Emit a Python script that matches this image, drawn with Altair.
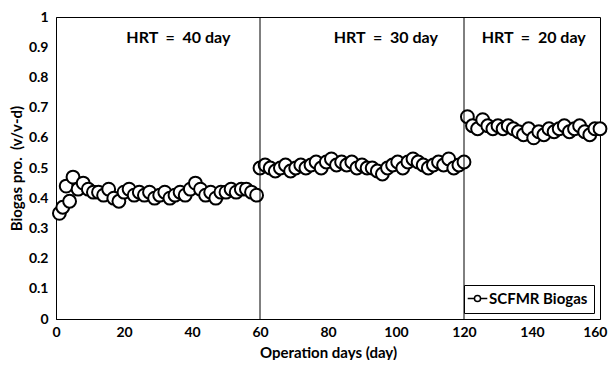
import altair as alt
import pandas as pd

seg1_days = [1, 2, 3, 4, 5, 6.5, 8, 9.5, 11, 12.5, 14, 15.5, 17, 18.5, 20, 21.5, 23, 24.5, 26, 27.5,
             29, 30.5, 32, 33.5, 35, 36.5, 38, 39.5, 41, 42.5, 44, 45.5, 47, 48.5, 50, 51.5, 53, 54.5,
             56, 57.5, 59]
seg1_vals = [0.35, 0.37, 0.44, 0.39, 0.47, 0.43, 0.45, 0.43, 0.42, 0.42, 0.41, 0.43, 0.40, 0.39, 0.42,
             0.43, 0.41, 0.42, 0.41, 0.42, 0.40, 0.41, 0.42, 0.40, 0.41, 0.42, 0.41, 0.43, 0.45, 0.43,
             0.41, 0.42, 0.40, 0.42, 0.42, 0.43, 0.42, 0.43, 0.43, 0.42, 0.41]
seg2_days = [60, 61.5, 63, 64.5, 66, 67.5, 69, 70.5, 72, 73.5, 75, 76.5, 78, 79.5, 81, 82.5, 84, 85.5,
             87, 88.5, 90, 91.5, 93, 94.5, 96, 97.5, 99, 100.5, 102, 103.5, 105, 106.5, 108, 109.5,
             111, 112.5, 114, 115.5, 117, 118.5, 120]
seg2_vals = [0.50, 0.51, 0.50, 0.49, 0.50, 0.51, 0.49, 0.50, 0.51, 0.50, 0.51, 0.52, 0.50, 0.52, 0.53,
             0.51, 0.52, 0.51, 0.52, 0.50, 0.51, 0.50, 0.50, 0.49, 0.48, 0.50, 0.51, 0.52, 0.50, 0.52,
             0.53, 0.52, 0.51, 0.50, 0.51, 0.52, 0.51, 0.53, 0.50, 0.51, 0.52]
seg3_days = [121, 122.5, 124, 125.5, 127, 128.5, 130, 131.5, 133, 134.5, 136, 137.5, 139, 140.5, 142,
             143.5, 145, 146.5, 148, 149.5, 151, 152.5, 154, 155.5, 157, 158.5, 160]
seg3_vals = [0.67, 0.64, 0.63, 0.66, 0.64, 0.63, 0.64, 0.63, 0.64, 0.63, 0.62, 0.61, 0.63, 0.60, 0.62,
             0.61, 0.63, 0.62, 0.63, 0.64, 0.62, 0.63, 0.64, 0.62, 0.61, 0.63, 0.63]

divider_days = [60, 120]
NB = "\u00a0"
label_texts = [f"HRT{NB}{NB}={NB}{NB}40 day", f"HRT{NB}{NB}={NB}{NB}30 day", f"HRT{NB}{NB}={NB}{NB}20 day"]
label_days = [36, 97, 140.5]
label_y = [0.93, 0.93, 0.93]
x_ticks = [0, 20, 40, 60, 80, 100, 120, 140, 160]
y_ticks = [0, 0.1, 0.2, 0.3, 0.4, 0.5, 0.6, 0.7, 0.8, 0.9, 1]
series_name = "SCFMR Biogas"

FONT = "Lato"

df = pd.DataFrame({
    "day": seg1_days + seg2_days + seg3_days,
    "biogas": seg1_vals + seg2_vals + seg3_vals,
})
df["series"] = series_name

div_df = pd.DataFrame({"day": divider_days, "y0": [0, 0], "y1": [1, 1]})
lab_df = pd.DataFrame({"day": label_days, "y": label_y, "text": label_texts})

xscale = alt.Scale(domain=[0, 160], nice=False, zero=False)
yscale = alt.Scale(domain=[0, 1], nice=False)

xaxis = alt.Axis(title="Operation days (day)", values=x_ticks,
                 grid=False, ticks=False, domainColor="black", labelPadding=6,
                 labelOverlap=False, labelFlush=False,
                 labelAlign={"condition": {"test": "datum.value >= 160", "value": "right"}, "value": "center"},
                 labelOffset={"condition": {"test": "datum.value >= 160", "value": 7}, "value": 0})
yaxis = alt.Axis(title=f"Biogas pro.{NB}{NB}(v/v-d)", values=y_ticks,
                 format="~g", grid=False, ticks=False, domainColor="black", labelPadding=8,
                 labelOverlap=False, labelFlush=False)

legend_symbol = "M -1.6 0 L -0.5 0 M 0.5 0 L 1.6 0 M -0.5 0 A 0.5 0.5 0 1 0 0.5 0 A 0.5 0.5 0 1 0 -0.5 0"

points = alt.Chart(df).mark_point(
    shape="circle", filled=True, fill="white", strokeWidth=2, size=165, opacity=1
).encode(
    x=alt.X("day:Q", scale=xscale, axis=xaxis),
    y=alt.Y("biogas:Q", scale=yscale, axis=yaxis),
    stroke=alt.Stroke("series:N", scale=alt.Scale(range=["black"]),
                      legend=alt.Legend(title=None, orient="bottom-right", offset=6,
                                        symbolType=legend_symbol, symbolSize=150, symbolStrokeWidth=1.5,
                                        symbolFillColor="white", symbolStrokeColor="black",
                                        labelFont=FONT, labelFontSize=15, labelFontWeight="bold",
                                        labelColor="black", strokeColor="black", padding=6,
                                        fillColor="white")),
)

rules = alt.Chart(div_df).mark_rule(color="black", strokeWidth=1).encode(
    x=alt.X("day:Q", scale=xscale, axis=xaxis),
    y=alt.Y("y0:Q", scale=yscale, axis=yaxis),
    y2="y1:Q",
)

labels = alt.Chart(lab_df).mark_text(
    font=FONT, fontSize=16, fontWeight="bold", color="black", align="center", baseline="middle"
).encode(
    x=alt.X("day:Q", scale=xscale, axis=xaxis),
    y=alt.Y("y:Q", scale=yscale, axis=yaxis),
    text="text:N",
)

chart = alt.layer(points, rules, labels).properties(
    width=544, height=302,
    autosize=alt.AutoSizeParams(type="none"),
    padding={"left": 48, "top": 9, "right": 8, "bottom": 41},
).configure_view(
    stroke="black", strokeWidth=1
).configure_axis(
    labelFont=FONT, labelFontSize=14, labelFontWeight="bold", labelColor="black",
    titleFont=FONT, titleFontSize=15, titleFontWeight="bold", titleColor="black",
).configure_axisX(titlePadding=6).configure_axisY(titlePadding=4)

chart.save("out.html", embed_options={"renderer": "svg", "actions": False})
